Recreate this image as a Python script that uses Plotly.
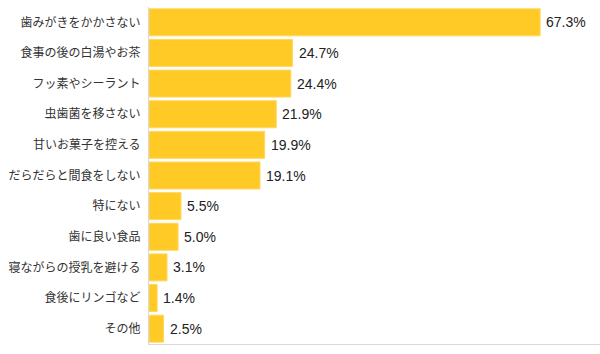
import plotly.graph_objects as go

categories = ["歯みがきをかかさない", "食事の後の白湯やお茶", "フッ素やシーラント", "虫歯菌を移さない",
              "甘いお菓子を控える", "だらだらと間食をしない", "特にない", "歯に良い食品",
              "寝ながらの授乳を避ける", "食後にリンゴなど", "その他"]
values = [67.3, 24.7, 24.4, 21.9, 19.9, 19.1, 5.5, 5.0, 3.1, 1.4, 2.5]
labels = [f"{v:.1f}%" for v in values]

font = "Noto Sans CJK JP, Noto Sans, sans-serif"
numfont = "Liberation Sans, Arial, sans-serif"

fig = go.Figure(go.Bar(
    x=values, y=categories, orientation="h",
    marker=dict(color="#FFC926", line=dict(color="#FFD75A", width=1)),
    hoverinfo="skip",
))

for c, v, t in zip(categories, values, labels):
    fig.add_annotation(x=v, y=c, text=t, showarrow=False, xanchor="left", xshift=4,
                       font=dict(size=14, color="#222222", family=numfont))

fig.update_layout(
    width=600, height=354,
    margin=dict(l=149, r=0, t=7, b=10),
    plot_bgcolor="white", paper_bgcolor="white",
    bargap=0.12, showlegend=False,
    font=dict(family=font, size=12, color="#333333"),
    xaxis=dict(range=[0, 77.6], showgrid=False, zeroline=False, showticklabels=False,
               showline=True, linecolor="#D9D9D9", linewidth=1, fixedrange=True),
    yaxis=dict(autorange="reversed", showgrid=False, zeroline=False, ticks="",
               showline=True, linecolor="#D9D9D9", linewidth=1, ticklabelstandoff=5,
               tickfont=dict(size=12, color="#333333", family=font)),
)

fig.write_html("out.html")
